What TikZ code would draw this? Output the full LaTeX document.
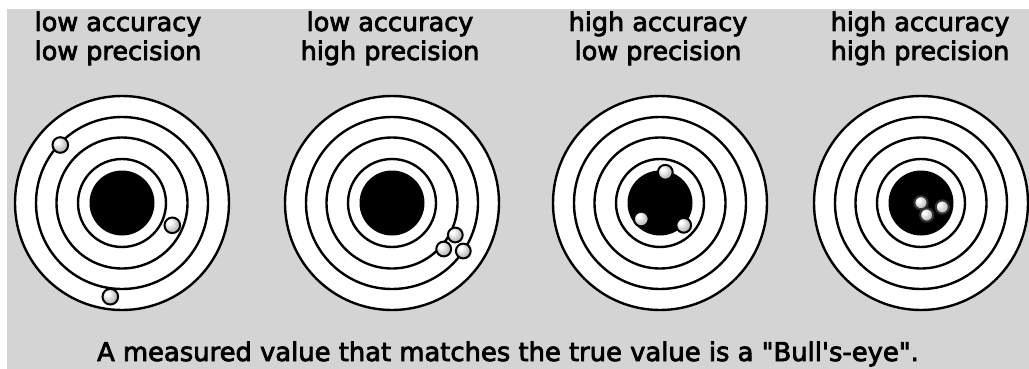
\documentclass[tikz,border=0pt]{standalone}
\usepackage{fontspec}
\setmainfont{DejaVu Sans}[Ligatures=TeXOff, FakeBold=3]
\pgfdeclareradialshading{ballshade}{\pgfpoint{-12bp}{12bp}}{color(0bp)=(white); color(6bp)=(white); color(28bp)=(gray!60); color(50bp)=(gray!90)}
\tikzset{
  ring/.style={draw=black, line width=2.4pt},
  ball/.style={draw=black, line width=2pt, shading=ballshade},
  title/.style={font=\fontsize{25.5}{29}\selectfont, align=center, anchor=base, text=black, inner sep=0pt},
  capt/.style={font=\fontsize{25.8}{30}\selectfont, anchor=base, inner sep=0pt}
}
\newcommand{\target}[2]{%
  \fill[white] (#1,#2) circle (107);
  \draw[ring] (#1,#2) circle (107);
  \draw[ring] (#1,#2) circle (86);
  \draw[ring] (#1,#2) circle (65.5);
  \draw[ring] (#1,#2) circle (44);
  \fill[black] (#1,#2) circle (32.5);
}
\begin{document}
\begin{tikzpicture}[x=1pt,y=-1pt]
\useasboundingbox (0,0) rectangle (1029,369);
\fill[white] (0,0) rectangle (1029,369);
\fill[black!17] (7,9) rectangle (1029,369);
\target{122}{203}
\target{392}{203}
\target{660}{203}
\target{921}{203}
% balls target 1
\shade[ball] (60.3,145) circle (7.8);
\shade[ball] (172.3,225.3) circle (7.8);
\shade[ball] (110.3,296.7) circle (7.8);
% target 2
\shade[ball] (455.3,235) circle (7.4);
\shade[ball] (443.7,249) circle (7.4);
\shade[ball] (463.3,251) circle (7.4);
% target 3
\shade[ball] (665.3,172.3) circle (7.4);
\shade[ball] (641.3,219) circle (7.4);
\shade[ball] (683.7,225.3) circle (7.4);
% target 4
\shade[ball, draw=black!80] (921,202.7) circle (6.6);
\shade[ball, draw=black!80] (942.3,207) circle (6.6);
\shade[ball, draw=black!80] (926.7,215) circle (6.6);
% titles
\node[title] (t1a) at (118,31) {low accuracy};
\node[title] (t1b) at (118,60) {low precision};
\node[title] (t2a) at (390,31) {low accuracy};
\node[title] (t2b) at (390,60) {high precision};
\node[title] (t3a) at (658,31) {high accuracy};
\node[title] (t3b) at (658,60) {low precision};
\node[title] (t4a) at (920,31) {high accuracy};
\node[title] (t4b) at (920,60) {high precision};
\node[capt] (cap) at (508,361) {A measured value that matches the true value is a "Bull's-eye".};
\end{tikzpicture}
\end{document}
